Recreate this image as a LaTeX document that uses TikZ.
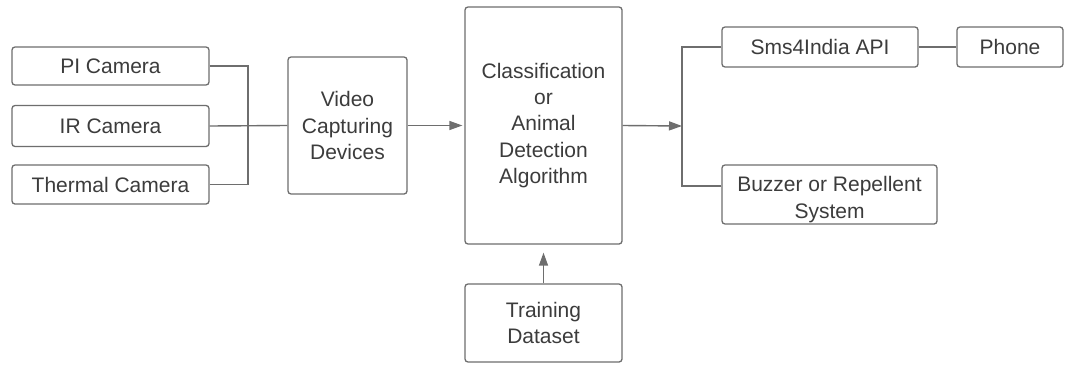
\documentclass[tikz,border=0pt]{standalone}
\usepackage{fontspec}
\setmainfont{Liberation Sans}
\usetikzlibrary{arrows.meta,calc}
\definecolor{lineg}{HTML}{6E6E6E}
\definecolor{textg}{HTML}{3C3C3C}
\begin{document}
\begin{tikzpicture}[x=1pt,y=-1pt,
  box/.style={draw=lineg,line width=1.3pt,rounded corners=3pt,align=center,
    text=textg,inner sep=2pt,font=\fontsize{21}{26.3}\selectfont},
  lbl/.style={align=center,text=textg,inner sep=0pt,font=\fontsize{21}{26.3}\selectfont},
  link/.style={draw=lineg,line width=1.4pt},
  arr/.style={link,-{Triangle[length=13pt,width=9pt]}}]
\path[use as bounding box,fill=white] (0,0) rectangle (1068,367);
\node[box,minimum width=197pt,minimum height=38pt] (pi) at (110.5,66) {PI Camera};
\node[box,minimum width=197pt,minimum height=41pt] (ir) at (110.5,126) {IR Camera};
\node[box,minimum width=197pt,minimum height=39pt] (th) at (110.5,184.5) {Thermal Camera};
\node[box,minimum width=119pt,minimum height=137pt] (vid) at (347.5,125.5) {Video\\Capturing\\Devices};
\node[box,minimum width=157pt,minimum height=237pt] (cls) at (543.5,125.5) {Classification\\or\\Animal\\Detection\\Algorithm};
\node[box,minimum width=157pt,minimum height=78pt] (trn) at (543.5,323) {Training\\Dataset};
\node[box,minimum width=196pt,minimum height=40pt] (sms) at (820,47) {Sms4India API};
\node[box,minimum width=106pt,minimum height=40pt] (ph) at (1010,47) {Phone};
\node[box,minimum width=215pt,minimum height=59pt] (buz) at (829.5,194.5) {};
\node[lbl] (buzt) at ($(buz.center)+(0,5)$) {Buzzer or Repellent\\System};
\coordinate (jl) at (248,126);
\coordinate (jr) at (682,126);
\draw[link] (pi.east) -| (jl);
\draw[link] (th.east) -| (jl);
\draw[link] (ir.east) -- (vid.west);
\draw[arr] (vid.east) -- ($(cls.west)+(-2,0)$);
\draw[arr] (cls.east) -- (jr);
\draw[link] (sms.west) -| (jr);
\draw[link] ($(buz.west)+(0,-8.5)$) -| (jr);
\draw[link] (sms.east) -- (ph.west);
\draw[arr] (trn.north) -- ($(cls.south)+(0,8)$);
\end{tikzpicture}
\end{document}
